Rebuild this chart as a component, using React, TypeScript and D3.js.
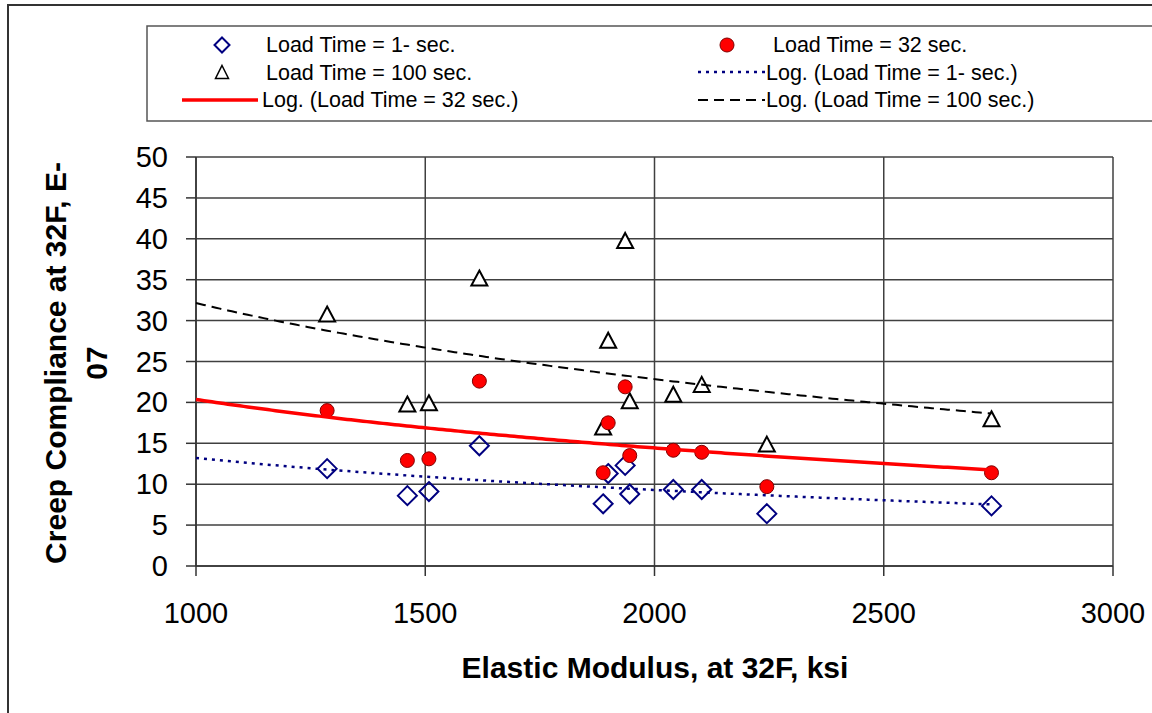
import React from "react";
import * as d3 from "d3";

const modulus = [1286, 1461, 1508, 1618, 1888, 1899, 1936, 1946, 2041, 2103, 2245, 2735];
const load1 = [11.9, 8.6, 9.1, 14.7, 7.6, 11.3, 12.3, 8.8, 9.35, 9.35, 6.4, 7.35];
const load32 = [19.0, 12.9, 13.1, 22.6, 11.4, 17.5, 21.9, 13.5, 14.15, 13.9, 9.7, 11.4];
const load100 = [30.8, 19.8, 19.95, 35.2, 17.0, 27.6, 39.8, 20.2, 21.0, 22.2, 14.9, 18.0];
const xTicks = [1000, 1500, 2000, 2500, 3000];
const yTicks = [0, 5, 10, 15, 20, 25, 30, 35, 40, 45, 50];

const FONT = "'Liberation Sans', Arial, sans-serif";

function logFit(xs: number[], ys: number[]) {
  const lx = xs.map((v) => Math.log(v));
  const mx = d3.mean(lx) as number;
  const my = d3.mean(ys) as number;
  let sxy = 0, sxx = 0;
  lx.forEach((v, i) => {
    sxy += (v - mx) * (ys[i] - my);
    sxx += (v - mx) * (v - mx);
  });
  const a = sxy / sxx;
  const b = my - a * mx;
  return (x: number) => a * Math.log(x) + b;
}

export default function App() {
  const left = 196, right = 1113, top = 157, bottom = 566;
  const x = d3.scaleLinear().domain([1000, 3000]).range([left, right]);
  const y = d3.scaleLinear().domain([0, 50]).range([bottom, top]);

  const xEnd = d3.max(modulus) as number;
  const samples = d3.range(0, 201).map((i) => 1000 + ((xEnd - 1000) * i) / 200);
  const line = (f: (v: number) => number) =>
    d3.line<number>().x((v) => x(v)).y((v) => y(f(v)))(samples) as string;

  const f1 = logFit(modulus, load1);
  const f32 = logFit(modulus, load32);
  const f100 = logFit(modulus, load100);

  const diamond = (cx: number, cy: number, r = 9.5) =>
    `M${cx},${cy - r}L${cx + r},${cy}L${cx},${cy + r}L${cx - r},${cy}Z`;
  const triangle = (cx: number, cy: number, w = 16, h = 15) =>
    `M${cx},${cy - h / 2}L${cx + w / 2},${cy + h / 2}L${cx - w / 2},${cy + h / 2}Z`;

  const grid = "#404040";

  return (
    <svg
      width={1152}
      height={713}
      style={{ position: "absolute", left: 0, top: 0, background: "#fff" }}
      fontFamily={FONT}
    >
      {/* chart border (only left/top visible) */}
      <path d="M8,713V5H1160" fill="none" stroke="#333" strokeWidth={2} />

      {/* legend */}
      <rect x={147} y={26} width={1020} height={95} fill="#fff" stroke="#555" strokeWidth={1.5} />
      <g fontSize={21.5} fill="#000">
        <path d={diamond(222, 45, 7.5)} fill="none" stroke="#000080" strokeWidth={2} />
        <text x={266} y={52}>Load Time = 1- sec.</text>
        <circle cx={727} cy={45} r={7} fill="#ff0000" stroke="#800000" strokeWidth={1} />
        <text x={773} y={52}>Load Time = 32 sec.</text>
        <path d={triangle(222, 72, 13, 13)} fill="#fff" stroke="#000" strokeWidth={1.5} />
        <text x={266} y={80}>Load Time = 100 sec.</text>
        <line x1={698} x2={765} y1={72} y2={72} stroke="#000080" strokeWidth={2.5} strokeDasharray="3,5" />
        <text x={766} y={80}>Log. (Load Time = 1- sec.)</text>
        <line x1={182} x2={258} y1={100} y2={100} stroke="#ff0000" strokeWidth={3.5} />
        <text x={262} y={107}>Log. (Load Time = 32 sec.)</text>
        <line x1={698} x2={765} y1={100} y2={100} stroke="#000" strokeWidth={2} strokeDasharray="10,6" />
        <text x={766} y={107}>Log. (Load Time = 100 sec.)</text>
      </g>

      {/* plot area */}
      <rect x={left} y={top} width={right - left} height={bottom - top} fill="#fff" />
      {yTicks.map((t) => (
        <line key={"gy" + t} x1={left} x2={right} y1={y(t)} y2={y(t)} stroke={grid} strokeWidth={1.5} />
      ))}
      {xTicks.map((t) => (
        <line key={"gx" + t} x1={x(t)} x2={x(t)} y1={top} y2={bottom} stroke={grid} strokeWidth={1.5} />
      ))}

      {/* axes */}
      <line x1={left} x2={left} y1={top} y2={bottom} stroke="#333" strokeWidth={1.5} />
      <line x1={left} x2={right} y1={bottom} y2={bottom} stroke="#333" strokeWidth={1.5} />
      {yTicks.map((t) => (
        <g key={"yt" + t}>
          <line x1={left - 10} x2={left} y1={y(t)} y2={y(t)} stroke="#333" strokeWidth={1.5} />
          <text x={168} y={y(t) + 10} textAnchor="end" fontSize={29}>{t}</text>
        </g>
      ))}
      {xTicks.map((t) => (
        <g key={"xt" + t}>
          <line x1={x(t)} x2={x(t)} y1={bottom} y2={bottom + 10} stroke="#333" strokeWidth={1.5} />
          <text x={x(t)} y={623} textAnchor="middle" fontSize={29}>{t}</text>
        </g>
      ))}

      {/* axis titles */}
      <text x={655} y={678} textAnchor="middle" fontSize={30} fontWeight="bold">
        Elastic Modulus, at 32F, ksi
      </text>
      <text transform="translate(66,363) rotate(-90)" textAnchor="middle" fontSize={30} fontWeight="bold">
        Creep Compliance at 32F, E-
      </text>
      <text transform="translate(107,363) rotate(-90)" textAnchor="middle" fontSize={30} fontWeight="bold">
        07
      </text>

      {/* markers */}
      {modulus.map((m, i) => (
        <path key={"t" + i} d={triangle(x(m), y(load100[i]))} fill="#fff" stroke="#000" strokeWidth={2} />
      ))}
      {modulus.map((m, i) => (
        <path key={"d" + i} d={diamond(x(m), y(load1[i]))} fill="none" stroke="#000080" strokeWidth={2} />
      ))}
      {modulus.map((m, i) => (
        <circle key={"c" + i} cx={x(m)} cy={y(load32[i])} r={7} fill="#ff0000" stroke="#800000" strokeWidth={1} />
      ))}

      {/* trendlines */}
      <path d={line(f1)} fill="none" stroke="#000080" strokeWidth={2.5} strokeDasharray="3,5" />
      <path d={line(f100)} fill="none" stroke="#000" strokeWidth={2} strokeDasharray="10,6" />
      <path d={line(f32)} fill="none" stroke="#ff0000" strokeWidth={3.5} />
    </svg>
  );
}
